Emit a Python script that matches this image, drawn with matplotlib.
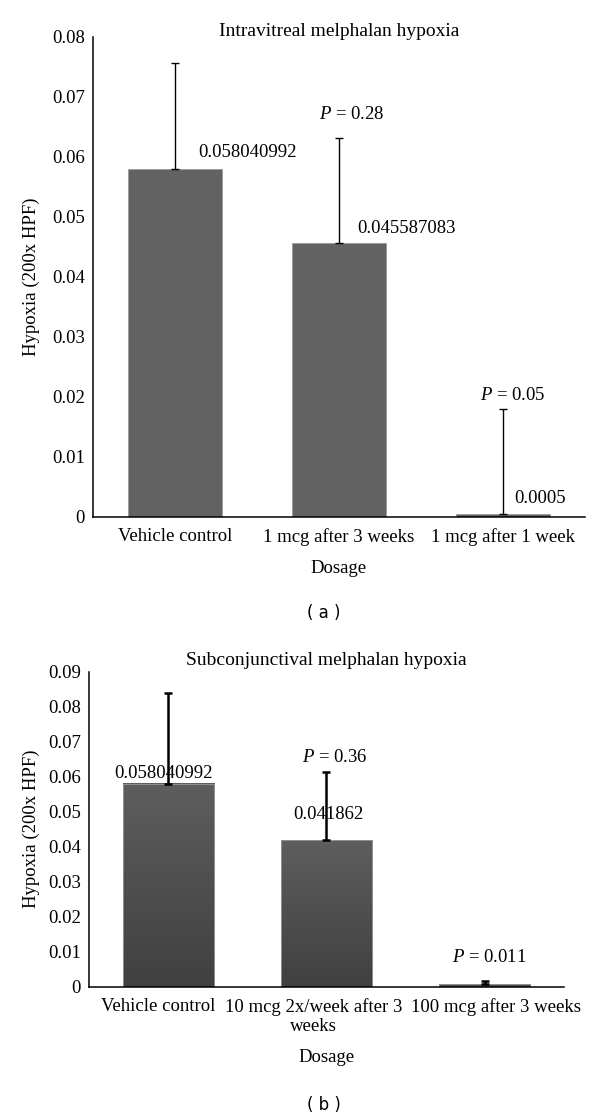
import matplotlib.pyplot as plt
from matplotlib.colors import LinearSegmentedColormap
from matplotlib.transforms import ScaledTranslation
import numpy as np

plt.rcParams['font.family'] = ['Liberation Serif', 'DejaVu Serif']
plt.rcParams['mathtext.fontset'] = 'custom'
plt.rcParams['mathtext.rm'] = 'Liberation Serif'
plt.rcParams['mathtext.it'] = 'Liberation Serif:italic'

# panel (a)
cats_a = ['Vehicle control', '1 mcg after 3 weeks', '1 mcg after 1 week']
vals_a = [0.058040992, 0.045587083, 0.0005]
err_a = [0.0176, 0.0175, 0.0175]
lbl_a = ['0.058040992', '0.045587083', '0.0005']
p_a = ['', '$P$ = 0.28', '$P$ = 0.05']

# panel (b)
cats_b = ['Vehicle control', '10 mcg 2x/week after 3\nweeks', '100 mcg after 3 weeks']
vals_b = [0.058040992, 0.041862, 0.0007]
err_b = [0.026, 0.0195, 0.0008]
lbl_b = ['0.058040992', '0.041862', '']
p_b = ['', '$P$ = 0.36', '$P$ = 0.011']

fs = 13.5
fig = plt.figure(figsize=(6, 11.2), dpi=100)

def style(ax, ymax, step):
    ax.set_ylim(0, ymax)
    ax.set_xlim(-0.5, 2.5)
    ax.set_yticks(np.arange(0, ymax + step / 2, step))
    ax.set_yticklabels(['0'] + ['%g' % t for t in np.arange(step, ymax + step / 2, step)])
    for s in ['top', 'right']:
        ax.spines[s].set_visible(False)
    ax.spines['left'].set_linewidth(1.1)
    ax.spines['bottom'].set_linewidth(1.1)
    ax.tick_params(length=0, labelsize=fs, pad=6)
    ax.tick_params(axis='x', pad=8)

# ---- (a)
ax1 = fig.add_axes([0.155, 0.5384, 0.82, 0.4286])
x = np.arange(len(cats_a))
ax1.bar(x, vals_a, width=0.57, color='#626262', edgecolor='#9a9a9a', linewidth=0.6, zorder=2)
ax1.errorbar(x, vals_a, yerr=[np.zeros(3), err_a], fmt='none', ecolor='black',
             elinewidth=1.0, capsize=3, capthick=1.0, zorder=3)
style(ax1, 0.08, 0.01)
ax1.set_xticks(x)
ax1.set_xticklabels(cats_a)
ax1.set_ylabel('Hypoxia (200x HPF)', fontsize=fs)
ax1.yaxis.set_label_coords(-0.108, 0.5)
ax1.set_xlabel('Dosage', fontsize=fs)
ax1.xaxis.set_label_coords(0.5, -0.09)
ax1.text(0.5, 1.011, 'Intravitreal melphalan hypoxia', transform=ax1.transAxes,
         ha='center', va='center', fontsize=14)
lbl_pos_a = [(0.445, 0.0607), (1.41, 0.0481), (2.226, 0.0030)]
for (px, py), t in zip(lbl_pos_a, lbl_a):
    ax1.text(px, py, t, ha='center', va='center', fontsize=fs)
p_pos_a = [(0, 0), (1.077, 0.0670), (2.06, 0.0203)]
for (px, py), t in zip(p_pos_a, p_a):
    if t:
        ax1.text(px, py, t, ha='center', va='center', fontsize=fs)

# ---- (b)
ax2 = fig.add_axes([0.1483, 0.119, 0.7917, 0.2813])
x = np.arange(len(cats_b))
bars = ax2.bar(x, vals_b, width=0.575, color='none', edgecolor='#9a9a9a', linewidth=0.6, zorder=2)
cmap = LinearSegmentedColormap.from_list('g', ['#404040', '#5e5e5e'])
grad = np.atleast_2d(np.linspace(0, 1, 256)).T
for b in bars:
    bx, by = b.get_xy()
    w, h = b.get_width(), b.get_height()
    ax2.imshow(grad, cmap=cmap, extent=[bx, bx + w, by, by + h], origin='lower',
               aspect='auto', zorder=1)
ax2.errorbar(x, vals_b, yerr=[np.zeros(3), err_b], fmt='none', ecolor='black',
             elinewidth=1.8, capsize=3, capthick=1.8, zorder=3)
style(ax2, 0.09, 0.01)
ax2.set_xticks(x)
ax2.set_xticklabels(cats_b, linespacing=1.2)
# the tick labels sit a little off the bar centres in the original
for t, dx in zip(ax2.get_xticklabels(), [-0.10, -0.13, 0.115]):
    t.set_transform(t.get_transform() + ScaledTranslation(dx, 0, fig.dpi_scale_trans))
ax2.set_ylabel('Hypoxia (200x HPF)', fontsize=fs)
ax2.yaxis.set_label_coords(-0.103, 0.5)
ax2.set_xlabel('Dosage', fontsize=fs)
ax2.xaxis.set_label_coords(0.5, -0.197)
ax2.text(0.5, 1.037, 'Subconjunctival melphalan hypoxia', transform=ax2.transAxes,
         ha='center', va='center', fontsize=14)
lbl_pos_b = [(-0.03, 0.0610), (1.01, 0.0493), (2, 0)]
for (px, py), t in zip(lbl_pos_b, lbl_b):
    if t:
        ax2.text(px, py, t, ha='center', va='center', fontsize=fs, zorder=2.5)
p_pos_b = [(0, 0), (1.05, 0.0654), (2.03, 0.0084)]
for (px, py), t in zip(p_pos_b, p_b):
    if t:
        ax2.text(px, py, t, ha='center', va='center', fontsize=fs)

fig.text(0.54, 0.4527, '( a )', ha='center', va='center', fontsize=12, family='DejaVu Sans')
fig.text(0.54, 0.0134, '( b )', ha='center', va='center', fontsize=12, family='DejaVu Sans')

fig.savefig('out.png', dpi=100, facecolor='white')
